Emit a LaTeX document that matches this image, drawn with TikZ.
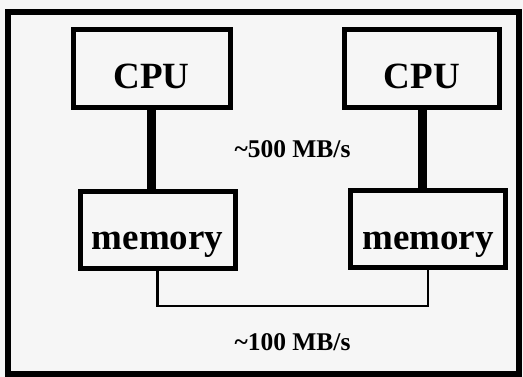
\documentclass[tikz,border=0pt]{standalone}
\usepackage{fontspec}
\setmainfont{Liberation Serif}
\definecolor{pagebg}{gray}{0.965}
\begin{document}
\begin{tikzpicture}[x=1pt,y=-1pt,
  box/.style={draw=black, line width=5pt, fill=pagebg, inner sep=0pt,
    text height=40pt, text depth=0pt,
    font=\fontsize{37}{40}\selectfont\bfseries},
  bus/.style={line width=9pt},
  link/.style={line width=2.5pt},
  rate/.style={font=\fontsize{25.5}{28}\selectfont\bfseries, inner sep=0pt, anchor=base}]
  % page and outer frame
  \fill[pagebg] (0,0) rectangle (523,377);
  \useasboundingbox (0,0) rectangle (523,377);
  \draw[line width=6pt] (8,12) rectangle (519,374);

  % processors and their local memories
  \node[box, minimum width=157pt, minimum height=78pt] (cpuL) at (151.5,69) {CPU};
  \node[box, minimum width=155.5pt, minimum height=78pt] (cpuR) at (422,69) {CPU};
  \node[box, minimum width=155pt, minimum height=77.5pt] (memL) at (157.5,230) {memory};
  \node[box, minimum width=154.5pt, minimum height=77pt] (memR) at (428,229.5) {memory};

  % fast CPU-memory paths
  \draw[bus] (cpuL.south) -- (cpuL.south |- memL.north);
  \draw[bus] (cpuR.south) -- (cpuR.south |- memR.north);

  % slow interconnect between the memories
  \coordinate (lowbus) at (292,306);
  \draw[link] (memL.south) |- (lowbus) -| (memR.south);

  % bandwidth labels
  \node[rate] (r500) at (292.5,158) {\textasciitilde500 MB/s};
  \node[rate] (r100) at (292.5,351) {\textasciitilde100 MB/s};
\end{tikzpicture}
\end{document}
